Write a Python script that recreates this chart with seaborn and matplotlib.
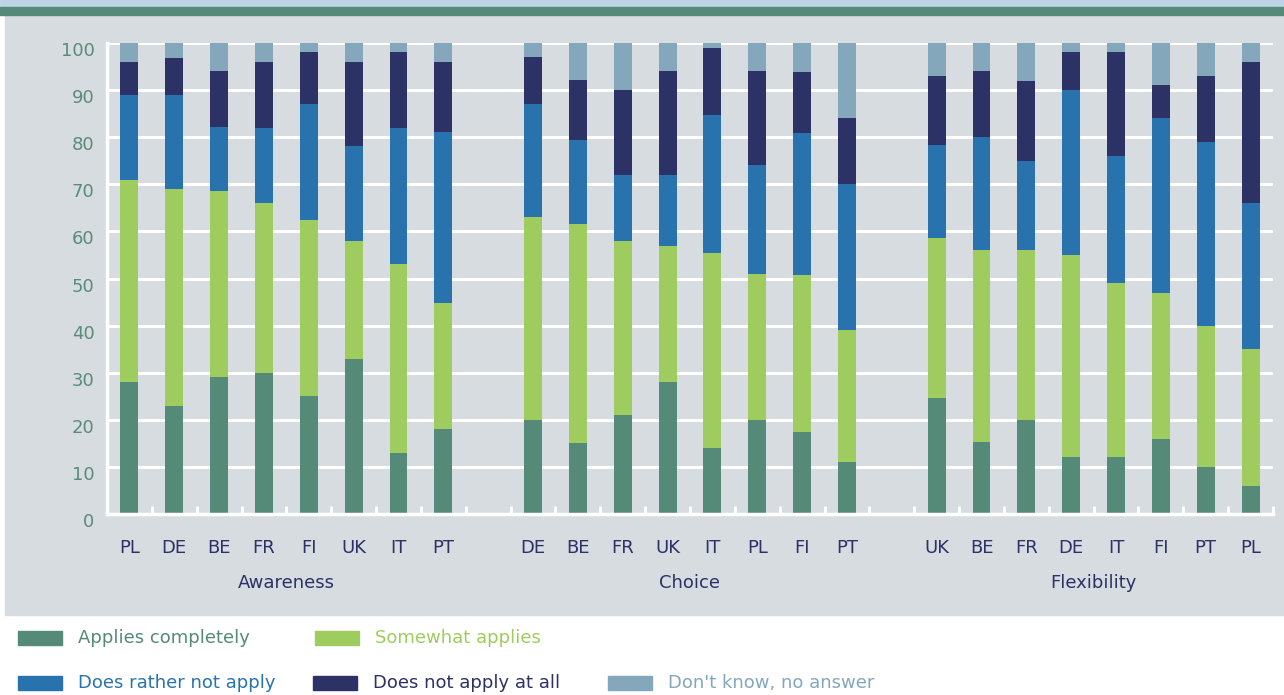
import numpy as np
import pandas as pd
import seaborn as sns
import matplotlib.pyplot as plt
import matplotlib.transforms as mtransforms
from matplotlib.patches import Rectangle

# survey answers per group (percent)
GROUPS = ['Awareness', 'Choice', 'Flexibility']
COUNTRIES = {
    'Awareness': ['PL', 'DE', 'BE', 'FR', 'FI', 'UK', 'IT', 'PT'],
    'Choice': ['DE', 'BE', 'FR', 'UK', 'IT', 'PL', 'FI', 'PT'],
    'Flexibility': ['UK', 'BE', 'FR', 'DE', 'IT', 'FI', 'PT', 'PL'],
}
applies_completely = {
    'Awareness': [28, 23, 29, 30, 25, 33, 13, 18],
    'Choice': [20, 15, 21, 28, 14, 20, 17.4, 11],
    'Flexibility': [24.7, 15.3, 20, 12, 12, 16, 10, 6],
}
somewhat_applies = {
    'Awareness': [43, 46, 39.5, 36, 37.5, 25, 40, 26.7],
    'Choice': [43, 46.5, 37, 29, 41.5, 31, 33.3, 28],
    'Flexibility': [33.8, 40.8, 36, 43, 37, 31, 30, 29],
}
rather_not = {
    'Awareness': [18, 20, 13.7, 16, 24.6, 20.2, 29, 36.5],
    'Choice': [24, 17.8, 14, 15, 29.3, 23, 30.2, 31],
    'Flexibility': [19.9, 24, 19, 35, 27, 37, 39, 31],
}
not_at_all = {
    'Awareness': [7, 7.8, 11.9, 14, 11, 17.8, 16.1, 14.8],
    'Choice': [10, 12.9, 18, 22, 14.2, 20, 13, 14],
    'Flexibility': [14.6, 14, 17, 8, 22, 7, 14, 30],
}
dont_know = {
    'Awareness': [4, 3.2, 5.9, 4, 1.9, 4, 1.9, 4],
    'Choice': [3, 7.8, 10, 6, 1, 6, 6.1, 16],
    'Flexibility': [7, 5.9, 8, 2, 2, 9, 7, 4],
}

SERIES = ['Applies completely', 'Somewhat applies', 'Does rather not apply',
          'Does not apply at all', "Don't know, no answer"]
COLORS = ['#548a77', '#9ecc5e', '#2872ad', '#2c3166', '#84a7bb']
PANEL = '#d6dce0'
TICK_GREEN = '#5b8c79'
NAVY = '#2c3166'

rows = []
for g in GROUPS:
    for i, c in enumerate(COUNTRIES[g]):
        rows.append({'key': g + '|' + c, 'group': g, 'country': c,
                     SERIES[0]: applies_completely[g][i],
                     SERIES[1]: somewhat_applies[g][i],
                     SERIES[2]: rather_not[g][i],
                     SERIES[3]: not_at_all[g][i],
                     SERIES[4]: dont_know[g][i]})
df = pd.DataFrame(rows)
cum = df[SERIES].cumsum(axis=1)
for s in SERIES:
    df['cum_' + s] = cum[s]

# category order with an empty slot between the groups
order = []
labels = []
for k, g in enumerate(GROUPS):
    if k > 0:
        order.append('gap%d' % k)
        labels.append('')
    for c in COUNTRIES[g]:
        order.append(g + '|' + c)
        labels.append(c)

fig = plt.figure(figsize=(12.84, 6.95), dpi=100)
fig.patch.set_facecolor('white')
W, H = 1284, 695
fig.patches.append(Rectangle((5 / W, 1 - 615 / H), 1 - 5 / W, 600 / H,
                             transform=fig.transFigure, color=PANEL, zorder=-5))
fig.patches.append(Rectangle((0, 1 - 7 / H), 1, 7 / H,
                             transform=fig.transFigure, color='#bdd3e7', zorder=-5))
fig.patches.append(Rectangle((0, 1 - 15 / H), 1, 8 / H,
                             transform=fig.transFigure, color='#548a77', zorder=-5))

ax = fig.add_axes([107 / W, 1 - 514 / H, (1273 - 107) / W, (514 - 43) / H])
ax.set_zorder(2)
ax.set_facecolor(PANEL)

# stacked bars: draw cumulative totals from the top layer down
for s, col in reversed(list(zip(SERIES, COLORS))):
    sns.barplot(data=df, x='key', y='cum_' + s, order=order, color=col,
                saturation=1, width=0.4, linewidth=0, ax=ax, zorder=3)

ax.set_xlim(-0.5, len(order) - 0.5)
ax.set_ylim(0, 100)
ax.set_yticks(range(0, 101, 10))
ax.set_xticks(range(len(order)))
ax.set_xticklabels(labels)
ax.set_xticks(np.arange(len(order)) + 0.5, minor=True)
ax.set_xlabel('')
ax.set_ylabel('')

ax.grid(axis='y', color='white', linewidth=2.2, zorder=1)
ax.set_axisbelow(True)
for side in ['top', 'right']:
    ax.spines[side].set_visible(False)
for side in ['left', 'bottom']:
    ax.spines[side].set_color('white')
    ax.spines[side].set_linewidth(2.5)
    ax.spines[side].set_zorder(4)

ax.tick_params(axis='y', length=0, pad=9, labelsize=13, labelcolor=TICK_GREEN)
ax.tick_params(axis='x', which='major', length=0, pad=18, labelsize=13,
               labelcolor=NAVY)
ax.tick_params(axis='x', which='minor', direction='in', length=6, width=2,
               color='white')

# y labels sit a little below their gridlines in the original
shift = mtransforms.ScaledTranslation(0, -6 / 100, fig.dpi_scale_trans)
for lab in ax.get_yticklabels():
    lab.set_transform(lab.get_transform() + shift)

# group names under the country labels
for k, g in enumerate(GROUPS):
    center = k * 9 + 3.5
    ax.text(center, -0.147, g, transform=ax.get_xaxis_transform(),
            ha='center', va='center', fontsize=13, color=NAVY)

# legend in two rows, text coloured like the swatches
legend_pos = [(18, 638), (315, 638), (18, 683), (313, 683), (608, 683)]
for (px, py), s, col in zip(legend_pos, SERIES, COLORS):
    fig.patches.append(Rectangle((px / W, 1 - (py + 7) / H), 44 / W, 14 / H,
                                 transform=fig.transFigure, color=col))
    fig.text((px + 60) / W, 1 - py / H, s, ha='left', va='center',
             fontsize=13, color=col)

fig.savefig('out.png', dpi=100)
